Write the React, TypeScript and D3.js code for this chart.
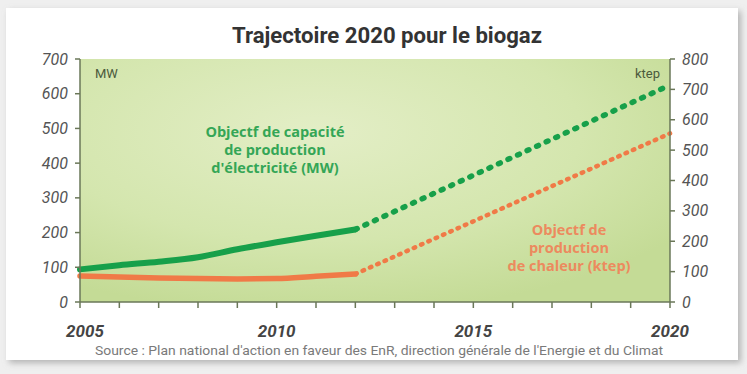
import React from 'react'
import * as d3 from 'd3'

// data
const yearsHist = [2005, 2006, 2007, 2008, 2009, 2010, 2011, 2012]
const elecHist = [94, 106, 116, 129, 152, 172, 191, 209] // MW
const heatHist = [86, 82, 79, 77, 76, 77, 85, 92] // ktep
const yearsTarget = [2012, 2020]
const elecTarget = [209, 625]
const heatTarget = [92, 555]

const leftTicks = [0, 100, 200, 300, 400, 500, 600, 700]
const rightTicks = [0, 100, 200, 300, 400, 500, 600, 700, 800]
const yearTicks = d3.range(2005, 2021)
const yearLabels = [2005, 2010, 2015, 2020]

const W = 747, H = 374
const margin = { left: 80, right: 77, top: 59, bottom: 72 }
const plotW = W - margin.left - margin.right
const plotH = H - margin.top - margin.bottom

const green = '#17a04a'
const orange = '#f07a47'
const axisCol = '#6a7758'
const tickFont = "'Liberation Sans Narrow', 'Roboto', sans-serif"
const textFont = "'Open Sans', 'Noto Sans', sans-serif"

function App() {
  const x = d3.scaleLinear().domain([2005, 2020]).range([0, plotW])
  const yL = d3.scaleLinear().domain([0, 700]).range([plotH, 0])
  const yR = d3.scaleLinear().domain([0, 800]).range([plotH, 0])

  const lineL = d3.line<number>().x((d, i) => x(yearsHist[i])).y(d => yL(d)).curve(d3.curveMonotoneX)
  const lineR = d3.line<number>().x((d, i) => x(yearsHist[i])).y(d => yR(d)).curve(d3.curveMonotoneX)
  const dashL = d3.line<number>().x((d, i) => x(yearsTarget[i])).y(d => yL(d))
  const dashR = d3.line<number>().x((d, i) => x(yearsTarget[i])).y(d => yR(d))

  return (
    <svg width={W} height={H} style={{ position: 'fixed', left: 0, top: 0 }}>
      <defs>
        <radialGradient id="bg" cx="0.4" cy="0.3" r="0.75">
          <stop offset="0" stopColor="#e3eec6" />
          <stop offset="0.6" stopColor="#d4e6ae" />
          <stop offset="1" stopColor="#c4db96" />
        </radialGradient>
        <filter id="shadow" x="-5%" y="-5%" width="110%" height="115%">
          <feDropShadow dx="3" dy="3" stdDeviation="3" floodColor="#9a9a9a" floodOpacity="0.7" />
        </filter>
      </defs>
      <rect width={W} height={H} fill="#efefef" />
      <rect x={6} y={8} width={732} height={352} fill="#ffffff" filter="url(#shadow)" />

      <text x={387} y={43} textAnchor="middle" fontFamily={tickFont} fontWeight="bold"
        fontSize={22} fill="#333" textLength={310} lengthAdjust="spacingAndGlyphs">
        Trajectoire 2020 pour le biogaz
      </text>

      <g transform={`translate(${margin.left},${margin.top})`}>
        <rect width={plotW} height={plotH} fill="url(#bg)" />

        <text x={15} y={19} fontFamily={tickFont} fontSize={13} fill="#4b5a3c">MW</text>
        <text x={plotW - 10} y={19} textAnchor="end" fontFamily={tickFont} fontSize={13} fill="#4b5a3c">ktep</text>

        <text textAnchor="middle" fontFamily={textFont} fontWeight="bold" fontSize={14.5} fill="#34a656">
          <tspan x={195} y={78}>Objectf de capacité</tspan>
          <tspan x={195} y={96}>de production</tspan>
          <tspan x={195} y={114}>d'électricité (MW)</tspan>
        </text>
        <text textAnchor="middle" fontFamily={textFont} fontWeight="bold" fontSize={14.5} fill="#ec8a5e">
          <tspan x={489} y={176}>Objectf de</tspan>
          <tspan x={489} y={194}>production</tspan>
          <tspan x={489} y={212}>de chaleur (ktep)</tspan>
        </text>

        <path d={dashR(heatTarget) || ''} fill="none" stroke={orange} strokeWidth={4.5}
          strokeDasharray="1.5 6.5" strokeLinecap="round" />
        <path d={dashL(elecTarget) || ''} fill="none" stroke={green} strokeWidth={5.5}
          strokeDasharray="2 8.5" strokeLinecap="round" />
        <path d={lineR(heatHist) || ''} fill="none" stroke={orange} strokeWidth={5.5} strokeLinecap="round" />
        <path d={lineL(elecHist) || ''} fill="none" stroke={green} strokeWidth={6} strokeLinecap="round" />

        {/* axes */}
        <line x1={0} x2={0} y1={0} y2={plotH} stroke={axisCol} strokeWidth={1.5} />
        <line x1={plotW} x2={plotW} y1={0} y2={plotH} stroke={axisCol} strokeWidth={1.5} />
        <line x1={0} x2={plotW} y1={plotH} y2={plotH} stroke={axisCol} strokeWidth={1.5} />

        {leftTicks.map(t => (
          <g key={'l' + t} transform={`translate(0,${yL(t)})`}>
            <line x1={-5} x2={0} stroke={axisCol} strokeWidth={1.5} />
            <text x={-12} dy="0.35em" textAnchor="end" fontFamily={tickFont} fontStyle="italic"
              fontSize={16} fill="#555">{t}</text>
          </g>
        ))}
        {rightTicks.map(t => (
          <g key={'r' + t} transform={`translate(${plotW},${yR(t)})`}>
            <line x1={0} x2={5} stroke={axisCol} strokeWidth={1.5} />
            <text x={12} dy="0.35em" fontFamily={tickFont} fontStyle="italic"
              fontSize={16} fill="#555">{t}</text>
          </g>
        ))}
        {yearTicks.map(t => (
          <line key={'x' + t} x1={x(t)} x2={x(t)} y1={plotH} y2={plotH + 6} stroke={axisCol} strokeWidth={1.5} />
        ))}
        {yearLabels.map(t => (
          <text key={'xl' + t} x={x(t) + (t === 2005 ? 5 : 0)} y={plotH + 35} textAnchor="middle"
            fontFamily={tickFont} fontStyle="italic" fontWeight="bold" fontSize={17} fill="#444">{t}</text>
        ))}
      </g>

      <text x={379} y={355} textAnchor="middle" fontFamily={tickFont} fontSize={13} fill="#7a7a7a"
        textLength={568} lengthAdjust="spacingAndGlyphs">
        Source : Plan national d'action en faveur des EnR, direction générale de l'Energie et du Climat
      </text>
    </svg>
  )
}

export default App
